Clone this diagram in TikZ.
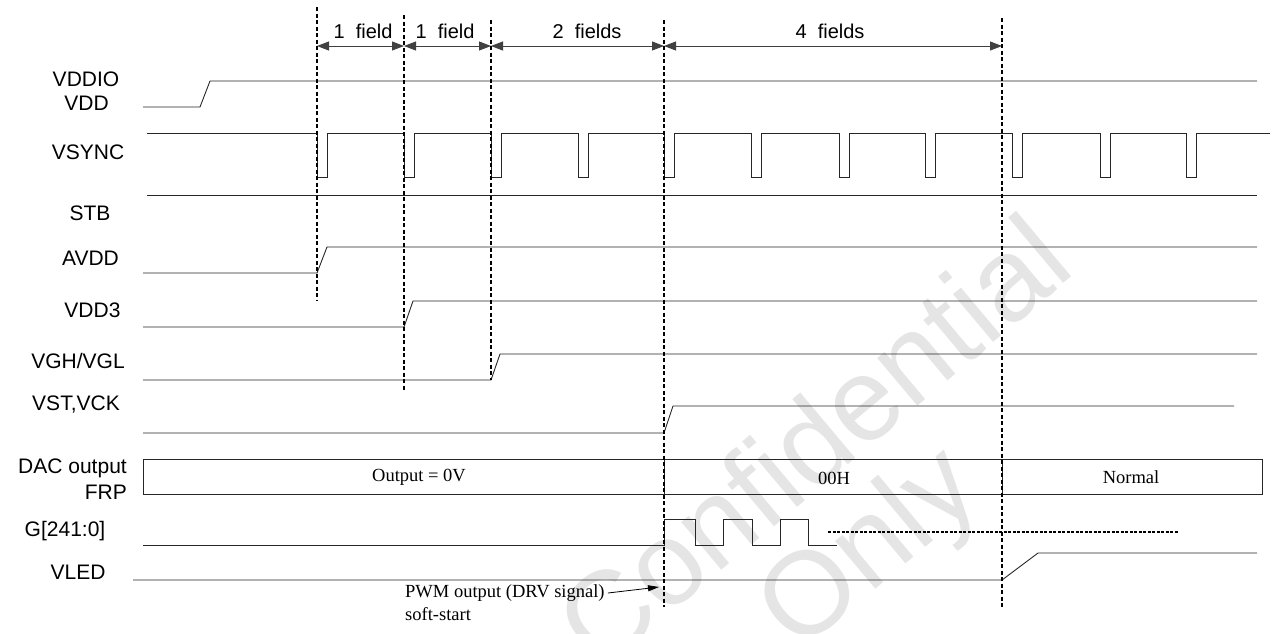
\documentclass[tikz,border=0pt]{standalone}
\usepackage{fontspec}
\setmainfont{Liberation Serif}
\newfontfamily\arialf{Liberation Sans}
\usetikzlibrary{arrows.meta}
\begin{document}
\begin{tikzpicture}[x=1pt,y=-1pt,
  sig/.style={line width=0.9pt, black!85},
  guide/.style={line width=1.3pt, dash pattern=on 4pt off 2.5pt},
  lbl/.style={font=\arialf\fontsize{21}{24}\selectfont, inner sep=0pt},
  fld/.style={font=\arialf\fontsize{20}{23}\selectfont, inner sep=0pt},
  val/.style={font=\fontsize{18.5}{21}\selectfont, inner sep=0pt},
  note/.style={font=\fontsize{18.5}{21}\selectfont, inner sep=0pt, anchor=west},
  spanarrow/.style={line width=0.9pt, black!75, {Triangle[length=12pt,width=9pt]}-{Triangle[length=12pt,width=9pt]}},
  wmark/.style={rotate=40, text=black!10, font=\arialf\fontsize{118}{124}\selectfont, inner sep=0pt},
]
\useasboundingbox (0,0) rectangle (1273,633);

% watermark
\begin{scope}
\clip (0,0) rectangle (1273,633);
\node[wmark] (wm1) at (812,440) {Confidential};
\node[wmark] (wm2) at (872,552) {Only};
\end{scope}

% guide coordinates
\coordinate (g1t) at (317,7);   \coordinate (g1b) at (317,300);
\coordinate (g2t) at (404,15);  \coordinate (g2b) at (404,390);
\coordinate (g3t) at (491,20);  \coordinate (g3b) at (491,380);
\coordinate (g4t) at (664,20);  \coordinate (g4b) at (664,607);
\coordinate (g5t) at (1002,18); \coordinate (g5b) at (1002,607);

% field spans
\coordinate (s1) at (317,46);
\coordinate (s2) at (404,46);
\coordinate (s3) at (491,46);
\coordinate (s4) at (664,46);
\coordinate (s5) at (1002,46);
\draw[spanarrow] (s1) -- (s2);
\draw[spanarrow] (s2) -- (s3);
\draw[spanarrow] (s3) -- (s4);
\draw[spanarrow] (s4) -- (s5);
\node[fld] (f1) at (363,31) {1~~field};
\node[fld] (f2) at (445,31) {1~~field};
\node[fld] (f3) at (587,31) {2~~fields};
\node[fld] (f4) at (830,31) {4~~fields};

% signal labels
\node[lbl] (lvddio) at (86,79) {VDDIO};
\node[lbl] (lvdd) at (86.5,103) {VDD};
\node[lbl] (lvsync) at (88,152) {VSYNC};
\node[lbl] (lstb) at (90,213) {STB};
\node[lbl] (lavdd) at (90.5,258) {AVDD};
\node[lbl] (lvdd3) at (92.5,310) {VDD3};
\node[lbl] (lvgh) at (78,361) {VGH/VGL};
\node[lbl] (lvst) at (76,404) {VST,VCK};
\node[lbl, anchor=east] (ldac) at (127,468) {DAC output};
\node[lbl, anchor=east] (lfrp) at (127,492) {FRP};
\node[lbl] (lg) at (65,531) {G[241:0]};
\node[lbl] (lvled) at (78,572) {VLED};

% VDDIO / VDD
\draw[sig] (143,107) -- (200,107) -- (210,81) -- (1257,81);
% VSYNC
\draw[sig] (147,133)
  foreach \p in {317,404,491,578,664,751,839,925,1012,1100,1186} {
    -- (\p,133) -- (\p,177) -- (\p+10,177) -- (\p+10,133) }
  -- (1270,133);
% STB
\draw[sig] (147,195) -- (1257,195);
% AVDD
\draw[sig] (143,273) -- (317,273) -- (327,247) -- (1257,247);
% VDD3
\draw[sig] (143,327) -- (404,327) -- (413,301) -- (1257,301);
% VGH/VGL
\draw[sig] (143,380) -- (491,380) -- (500,354) -- (1257,354);
% VST,VCK
\draw[sig] (143,433) -- (664,433) -- (673,406) -- (1234,406);
% DAC output / FRP
\draw[sig] (143,459) rectangle (1262,494);
\draw[sig] (664,459) -- (664,494);
\draw[sig] (1002,459) -- (1002,494);
\node[val] (v1) at (419,477) {Output = 0V};
\node[val] (v2) at (834,478) {00H};
\node[val] (v3) at (1131,477) {Normal};
% G[241:0]
\draw[sig] (143,545) -- (664,545) -- (664,519) -- (695,519) -- (695,545)
  -- (723,545) -- (723,519) -- (752,519) -- (752,545) -- (780,545)
  -- (780,519) -- (808,519) -- (808,545) -- (837,545);
\draw[line width=2pt, dash pattern=on 3pt off 1.5pt] (828,532) -- (1178,532);
% VLED
\draw[sig] (133,580) -- (1002,580) -- (1038,553) -- (1257,553);

% guides
\draw[guide] (g1t) -- (g1b);
\draw[guide] (g2t) -- (g2b);
\draw[guide] (g3t) -- (g3b);
\draw[guide] (g4t) -- (g4b);
\draw[guide] (g5t) -- (g5b);

% PWM note
\node[note] (pwm) at (405,593) {PWM output (DRV signal)};
\node[note] (soft) at (405,614) {soft-start};
\coordinate (pwmtip) at (659,587);
\draw[line width=0.8pt, -{Triangle[length=11pt,width=6pt]}] (pwm.east) ++(3,0) coordinate (pwmstart) -- (pwmtip);
\end{tikzpicture}
\end{document}
